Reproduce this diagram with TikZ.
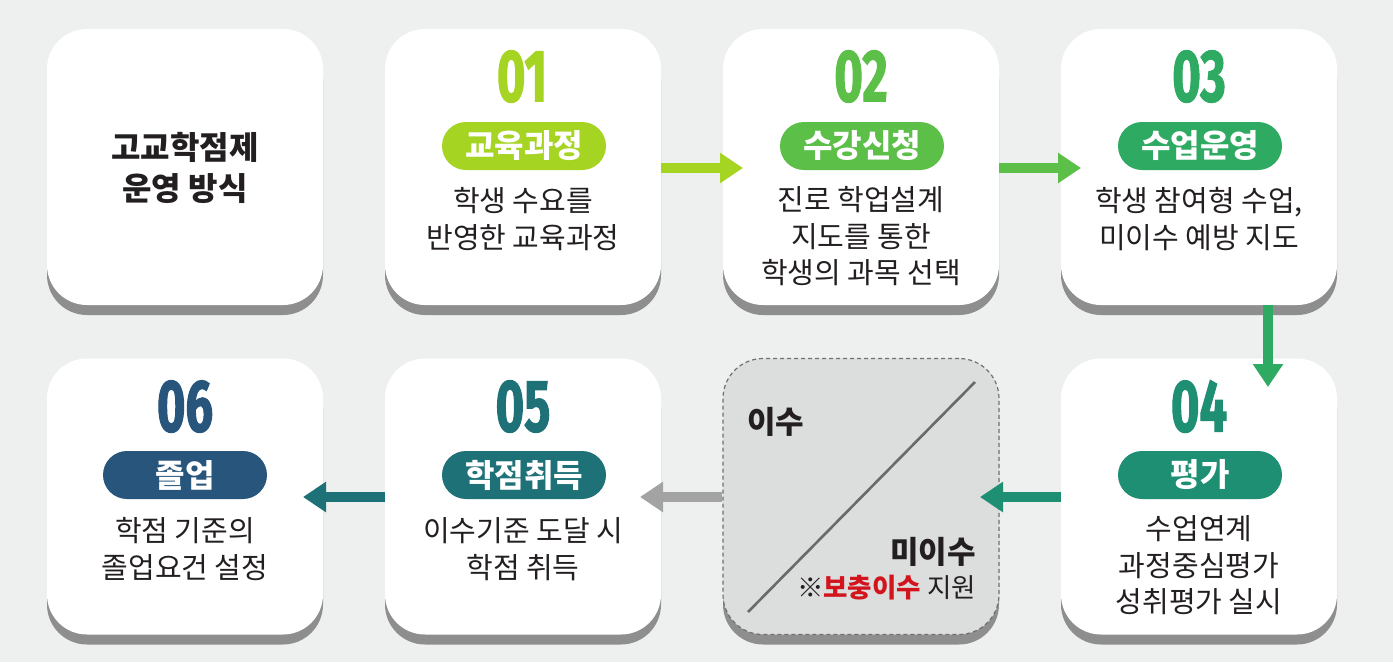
\documentclass[tikz,border=0pt]{standalone}
\usepackage{fontspec}
\setmainfont{Noto Sans CJK KR}
\newfontfamily\numf{Fira Sans}[FakeStretch=0.66,FakeBold=1.4]
\usetikzlibrary{arrows.meta,shadows,calc}
\definecolor{bgc}{HTML}{EEF0EF}
\definecolor{shc}{HTML}{8E8E8E}
\definecolor{cA}{HTML}{A5D423}
\definecolor{cB}{HTML}{5CBF48}
\definecolor{cC}{HTML}{2FAA62}
\definecolor{cD}{HTML}{1F8F74}
\definecolor{cE}{HTML}{1E7177}
\definecolor{cF}{HTML}{27557C}
\definecolor{boxc}{HTML}{DCDDDD}
\definecolor{dashc}{HTML}{707070}
\definecolor{diagc}{HTML}{6A6A6A}
\definecolor{redc}{HTML}{D2141C}
\definecolor{arrg}{HTML}{A3A3A3}
\definecolor{txt}{HTML}{231F20}
\tikzset{
  card/.style={fill=white, rounded corners=40pt, minimum width=276pt, minimum height=276pt, inner sep=0pt,
    drop shadow={shadow xshift=0pt, shadow yshift=-10pt, fill=shc, opacity=1}},
  midbox/.style={fill=boxc, draw=dashc, line width=1.2pt, dash pattern=on 4pt off 3pt, rounded corners=40pt,
    minimum width=276pt, minimum height=276pt, inner sep=0pt,
    drop shadow={shadow xshift=0pt, shadow yshift=-10pt, fill=shc, opacity=1}},
  num/.style={font=\numf\bfseries\fontsize{74}{74}\selectfont, inner sep=0pt},
  pill/.style={rounded corners=24pt, minimum width=164pt, minimum height=48pt, inner sep=0pt, text=white,
    font=\bfseries\fontsize{32}{32}\selectfont},
  desc/.style={font=\fontsize{29}{36.5}\selectfont, align=center, text=txt, inner sep=0pt},
  flow/.style={line width=10pt, -{Triangle[length=23pt, width=29pt]}},
}
\begin{document}
\begin{tikzpicture}[x=1pt,y=-1pt]
\useasboundingbox (0,0) rectangle (1393,662);
\fill[bgc] (0,0) rectangle (1393,662);

% row 1 cards
\node[card] (c0) at (185,167) {};
\node[card] (c1) at (523,167) {};
\node[card] (c2) at (861,167) {};
\node[card] (c3) at (1199,167) {};
% row 2 cards
\node[card] (c6) at (185,496.5) {};
\node[card] (c5) at (523,496.5) {};
\node[midbox] (mb) at (861,496.5) {};
\node[card] (c4) at (1199,496.5) {};

% card 0
\node[font=\bfseries\fontsize{32}{41.5}\selectfont, align=center, text=txt, inner sep=0pt] (t0) at (185,168) {고교학점제\\운영 방식};

% card 1
\node[num, text=cA] (n1) at (522,76.5) {01};
\node[pill, fill=cA] (p1) at (524,146) {교육과정};
\node[desc] (d1) at (523,219) {학생 수요를\\반영한 교육과정};

% card 2
\node[num, text=cB] (n2) at (861,76.5) {02};
\node[pill, fill=cB] (p2) at (862,146) {수강신청};
\node[desc] (d2) at (861,236.5) {진로 학업설계\\지도를 통한\\학생의 과목 선택};

% card 3
\node[num, text=cC] (n3) at (1199,76.5) {03};
\node[pill, fill=cC] (p3) at (1200,146) {수업운영};
\node[desc] (d3) at (1199,219) {학생 참여형 수업,\\미이수 예방 지도};

% card 4
\node[num, text=cD] (n4) at (1199,406.5) {04};
\node[pill, fill=cD] (p4) at (1200,475) {평가};
\node[desc] (d4) at (1199,565.5) {수업연계\\과정중심평가\\성취평가 실시};

% card 5
\node[num, text=cE] (n5) at (523,406.5) {05};
\node[pill, fill=cE] (p5) at (524,475) {학점취득};
\node[desc] (d5) at (523,549) {이수기준 도달 시\\학점 취득};

% card 6
\node[num, text=cF] (n6) at (185,406.5) {06};
\node[pill, fill=cF] (p6) at (185,475) {졸업};
\node[desc] (d6) at (185,549) {학점 기준의\\졸업요건 설정};

% middle box content
\coordinate (g1) at (748,612);
\coordinate (g2) at (975,382);
\draw[diagc, line width=2.6pt] (g1) -- (g2);
\node[font=\bfseries\fontsize{31}{31}\selectfont, text=txt, anchor=west, inner sep=0pt] (is) at (747,422) {이수};
\node[font=\bfseries\fontsize{31}{31}\selectfont, text=txt, anchor=east, inner sep=0pt] (mis) at (976,552) {미이수};
\node[font=\fontsize{26.5}{26.5}\selectfont, text=txt, anchor=east, inner sep=0pt] (sup) at (976,588) {※{\bfseries\color{redc}보충이수} 지원};

% arrows
\coordinate (a12) at (743,168);
\coordinate (a23) at (1081,168);
\coordinate (s34) at (1268,305);
\coordinate (a34) at (1268,387);
\coordinate (a4m) at (980,497);
\coordinate (am5) at (640,497);
\coordinate (a56) at (303,497);
\draw[flow, cA] (c1.east |- a12) -- (a12);
\draw[flow, cB] (c2.east |- a23) -- (a23);
\draw[flow, cC] (s34) -- (a34);
\draw[flow, cD] (c4.west |- a4m) -- (a4m);
\draw[flow, arrg] (mb.west |- am5) -- (am5);
\draw[flow, cE] (c5.west |- a56) -- (a56);
\end{tikzpicture}
\end{document}
